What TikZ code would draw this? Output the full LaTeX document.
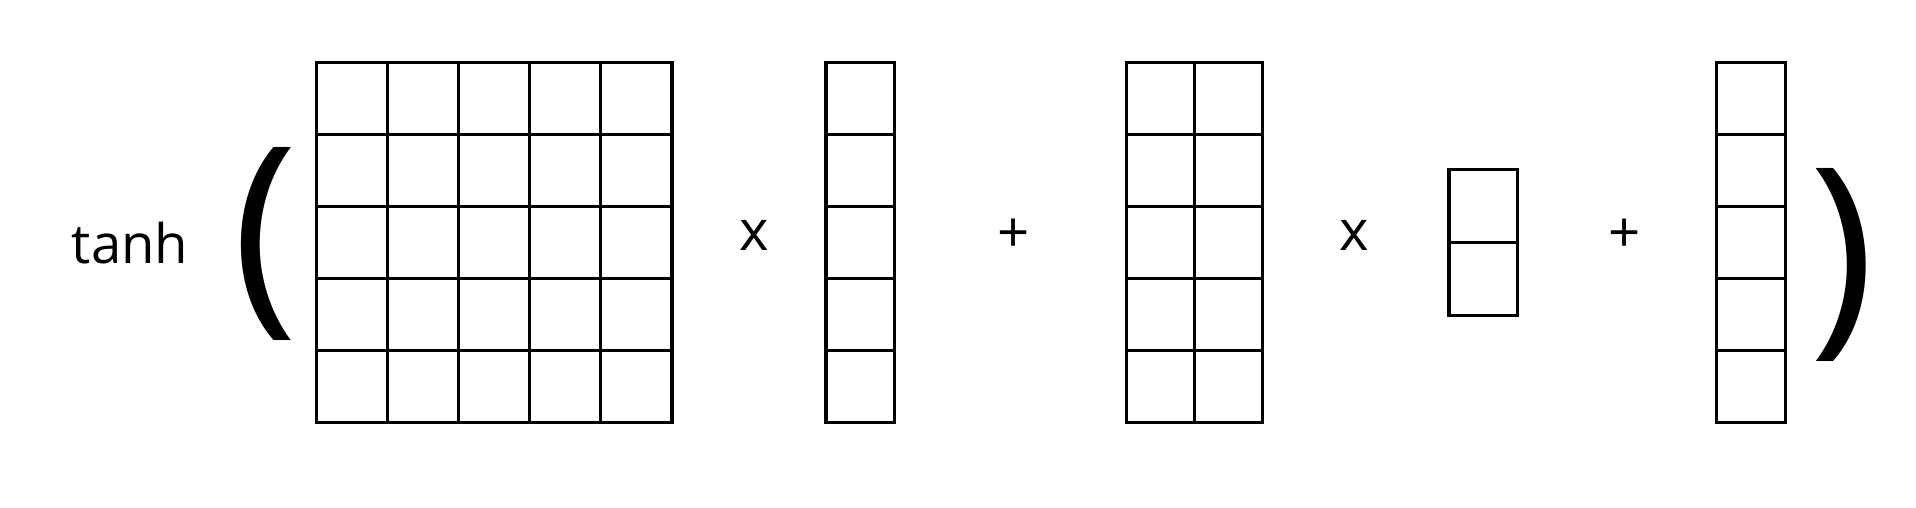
\documentclass[tikz,border=0pt]{standalone}
\usepackage{fontspec}
\setmainfont{Open Sans}
\tikzset{
	gridline/.style={line width=0.9pt, black},
	sym/.style={inner sep=0pt, font=\fontsize{16}{16}\selectfont},
	paren/.style={inner sep=0pt, font=\fontsize{63}{63}\selectfont}
}
\begin{document}
\begin{tikzpicture}
	\useasboundingbox (0,0) rectangle (19.16,5.08);
	\node[inner sep=0pt, anchor=base, font=\fontsize{15.5}{15.5}\selectfont] (tanh) at (1.30,2.44) {tanh};
	\node[paren] (lparen) at (2.65,2.637) {(};
	\draw[gridline, shift={(3.165,0.855)}, xstep=0.711, ystep=0.72] (0,0) grid (3.555,3.6);
	\draw[gridline] (3.165,0.855) rectangle (6.72,4.455);
	\node[sym, anchor=base] (times1) at (7.54,2.575) {x};
	\draw[gridline, shift={(8.26,0.855)}, xstep=0.684, ystep=0.72] (0,0) grid (0.684,3.6);
	\draw[gridline] (8.26,0.855) rectangle (8.944,4.455);
	\node[sym] (plus1) at (10.14,2.72) {+};
	\draw[gridline, shift={(11.266,0.855)}, xstep=0.678, ystep=0.72] (0,0) grid (1.356,3.6);
	\draw[gridline] (11.266,0.855) rectangle (12.622,4.455);
	\node[sym, anchor=base] (times2) at (13.54,2.575) {x};
	\draw[gridline, shift={(14.49,1.928)}, xstep=0.686, ystep=0.727] (0,0) grid (0.686,1.454);
	\draw[gridline] (14.49,1.928) rectangle (15.176,3.382);
	\node[sym] (plus2) at (16.25,2.72) {+};
	\draw[gridline, shift={(17.168,0.855)}, xstep=0.684, ystep=0.72] (0,0) grid (0.684,3.6);
	\draw[gridline] (17.168,0.855) rectangle (17.852,4.455);
	\node[paren] (rparen) at (18.42,2.435) {)};
\end{tikzpicture}
\end{document}
